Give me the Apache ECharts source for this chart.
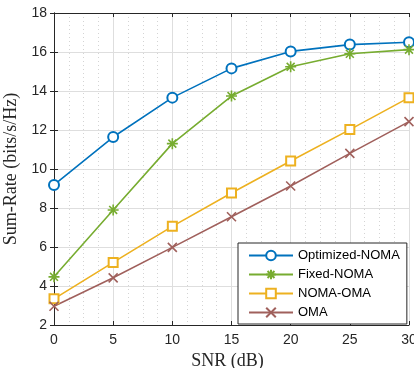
<!DOCTYPE html>
<html>
<head>
<meta charset="utf-8">
<script src="https://cdn.jsdelivr.net/npm/echarts@6/dist/echarts.min.js"></script>
<style>html,body{margin:0;padding:0;background:#fff}#c{width:414px;height:368px}</style>
</head>
<body>
<div id="c"></div>
<script>
const snr = [0, 5, 10, 15, 20, 25, 30];
const optimizedNoma = [9.18, 11.64, 13.66, 15.16, 16.03, 16.38, 16.5];
const fixedNoma = [4.47, 7.9, 11.3, 13.74, 15.24, 15.91, 16.12];
const nomaOma = [3.34, 5.21, 7.06, 8.77, 10.41, 12.02, 13.66];
const oma = [2.96, 4.42, 5.98, 7.55, 9.13, 10.8, 12.43];
const seriesNames = ['Optimized-NOMA', 'Fixed-NOMA', 'NOMA-OMA', 'OMA'];

const colors = ['#0072BD', '#77AC30', '#EDB120', '#A0605C'];
const axisColor = '#262626';
const sans = '"Liberation Sans", Arial, sans-serif';
const serif = '"Liberation Serif", "Times New Roman", serif';

function pairs(arr) { return arr.map((v, i) => [snr[i], v]); }

const starPath = 'path://M0,-1L0,1M-1,0L1,0M-0.72,-0.72L0.72,0.72M-0.72,0.72L0.72,-0.72';
const crossPath = 'path://M-1,-1L1,1M-1,1L1,-1';

function mk(name, data, color, symbol, size) {
  return {
    name, type: 'line', data: pairs(data), symbol, symbolSize: size,
    showAllSymbol: true,
    lineStyle: { color, width: 1.6 },
    itemStyle: { color: color, borderColor: color, borderWidth: 1.6 },
    emphasis: { disabled: true },
    animation: false, z: 3
  };
}

const chart = echarts.init(document.getElementById('c'), null, { renderer: 'canvas' });
const baseX = { type: 'value', min: 0, max: 30, interval: 5 };
const baseY = { type: 'value', min: 2, max: 18, interval: 2 };
chart.setOption({
  animation: false,
  backgroundColor: '#fff',
  grid: { left: 54, right: 5, top: 13, bottom: 43, containLabel: false, outerBoundsMode: 'none' },
  xAxis: [
    Object.assign({}, baseX, {
      position: 'bottom',
      name: 'SNR (dB)', nameLocation: 'middle', nameGap: 21,
      nameTextStyle: { fontFamily: serif, fontSize: 18, color: axisColor, padding: [0, 8, 0, 0] },
      axisLine: { show: true, lineStyle: { color: axisColor, width: 1 } },
      axisTick: { show: true, inside: true, length: 4, lineStyle: { color: axisColor } },
      axisLabel: { fontFamily: sans, fontSize: 14, color: axisColor, margin: 8 },
      splitLine: { show: true, lineStyle: { color: '#dedede', width: 1 } },
      minorTick: { show: false, splitNumber: 4 },
      minorSplitLine: { show: true, lineStyle: { color: '#d4d4d4', width: 1, type: [1, 3] } }
    }),
    Object.assign({}, baseX, {
      position: 'top',
      axisLine: { show: true, lineStyle: { color: axisColor, width: 1 } },
      axisTick: { show: true, inside: true, length: 4, lineStyle: { color: axisColor } },
      axisLabel: { show: false },
      splitLine: { show: false }
    })
  ],
  yAxis: [
    Object.assign({}, baseY, {
      position: 'left',
      name: 'Sum-Rate (bits/s/Hz)', nameLocation: 'middle', nameGap: 24,
      nameTextStyle: { fontFamily: serif, fontSize: 18, color: axisColor },
      axisLine: { show: true, lineStyle: { color: axisColor, width: 1 } },
      axisTick: { show: true, inside: true, length: 4, lineStyle: { color: axisColor } },
      axisLabel: { fontFamily: sans, fontSize: 14, color: axisColor, margin: 7 },
      splitLine: { show: true, lineStyle: { color: '#dedede', width: 1 } }
    }),
    Object.assign({}, baseY, {
      position: 'right',
      axisLine: { show: true, lineStyle: { color: axisColor, width: 1 } },
      axisTick: { show: true, inside: true, length: 4, lineStyle: { color: axisColor } },
      axisLabel: { show: false },
      splitLine: { show: false }
    })
  ],
  legend: {
    orient: 'vertical', left: 238, top: 243,
    padding: [6, 7, 5, 10],
    itemWidth: 44, itemHeight: 12, itemGap: 6,
    backgroundColor: '#fff', borderColor: axisColor, borderWidth: 1, borderRadius: 0,
    textStyle: { fontFamily: sans, fontSize: 13, color: '#000' },
    data: seriesNames
  },
  series: [
    mk(seriesNames[0], optimizedNoma, colors[0], 'emptyCircle', 10),
    mk(seriesNames[1], fixedNoma, colors[1], starPath, 11),
    mk(seriesNames[2], nomaOma, colors[2], 'emptyRect', 9),
    mk(seriesNames[3], oma, colors[3], crossPath, 9)
  ]
});
</script>
</body>
</html>
